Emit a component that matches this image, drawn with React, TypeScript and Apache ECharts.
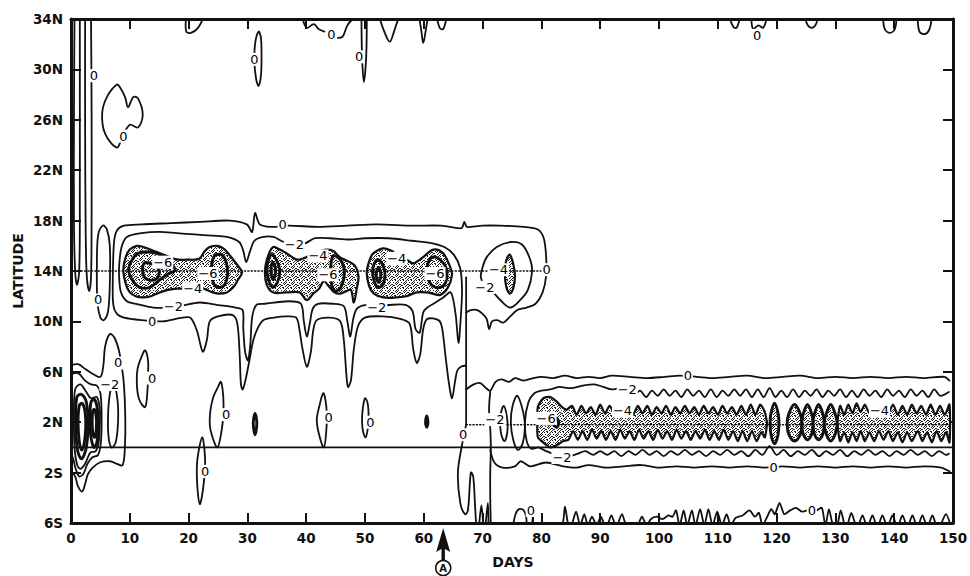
import { useEffect, useRef } from "react";
import * as echarts from "echarts";

type Pt = [number, number];

// ---- axes -------------------------------------------------------------
const DAY_MIN = 0;
const DAY_MAX = 150;
const DAY_STEP = 10;
const LAT_MIN = -6;
const LAT_MAX = 34;
const LAT_TICKS = [-6, -2, 2, 6, 10, 14, 18, 22, 26, 30, 34];
const ARROW_DAY = 63.3;

// ---- contours: top-left strip ------------------------------------------
const LOOP_AXIS: Pt[] = [[0.6, 34.5], [0.5, 26], [0.5, 18], [0.7, 14], [1.0, 12.9], [1.4, 14], [1.5, 20], [1.5, 28], [1.5, 34.5]];
const LOOP_NEAR: Pt[] = [[2.4, 34.5], [2.4, 26], [2.5, 17], [2.7, 13.5], [3.1, 12.4], [3.4, 13.5], [3.5, 18], [3.5, 27], [3.4, 34.5]];
const KIDNEY_26N: Pt[] = [[7.8, 28.8], [6.1, 27.8], [5.3, 26.5], [5.8, 24.9], [7.8, 23.8], [8.7, 24.6], [10.0, 25.6], [11.4, 25.4], [12.2, 26.4], [11.4, 27.7], [10.6, 27.8], [9.7, 27.0], [9.2, 27.8], [8.3, 28.6]];
const LOOP_31N: Pt[] = [[31.9, 33.0], [31.3, 32.0], [31.2, 30.5], [31.5, 29.2], [31.9, 28.7], [32.3, 29.5], [32.4, 31], [32.3, 32.5]];

// ---- contours hanging from the northern edge ---------------------------
const TOP_EDGE: Pt[][] = [
  [[19.6, 34.2], [19.6, 33.0], [20.4, 32.9], [21.6, 33.3], [22.6, 34.2]],
  [[39.3, 34.2], [40.1, 33.3], [41.3, 33.6], [42.1, 33.2], [43.1, 33.0]],
  [[45.4, 32.5], [46.2, 32.6], [46.9, 33.4], [47.5, 33.8], [48.8, 34.2]],
  [[49.4, 34.2], [49.5, 31], [49.8, 29], [50.2, 31], [50.3, 34.2]],
  [[52.4, 34.2], [53.2, 33.1], [54.2, 32.2], [55.0, 33.1], [55.6, 33.9], [56.2, 34.2]],
  [[59.2, 34.2], [59.6, 33], [59.9, 32.1], [60.3, 33], [60.7, 34.2]],
  [[62.2, 34.2], [62.7, 33.3], [63.3, 33.2], [63.9, 34.2]],
  [[112, 34.2], [112.6, 33.4], [113.2, 33.3], [113.8, 34.2]],
  [[115.7, 34.2], [116.0, 33.2], [116.9, 33.5], [117.7, 33.3], [118.4, 34.2]],
  [[124.8, 34.2], [125.3, 33.5], [126.0, 33.3], [126.7, 33.6], [127, 34.2]],
  [[138.1, 34.2], [138.4, 33.2], [139.3, 32.9], [140.1, 33.2], [140.4, 34.2]],
  [[144, 34.2], [144.3, 33.0], [145.2, 32.8], [146.0, 33.2], [146.4, 34.2]],
];

// ---- 14N band -----------------------------------------------------------
const NARROW_5D: Pt[] = [[5.4, 17.6], [4.6, 16.8], [4.4, 14], [4.5, 11.5], [5.0, 10.3], [5.6, 10.1], [6.3, 10.8], [6.6, 13], [6.6, 16], [6.1, 17.3]];
const BAND_ZERO: Pt[] = [
  [67.2, 10.7], [68.0, 10.9], [69.1, 10.9], [70.0, 10.6], [70.7, 10.2], [71.1, 9.4], [71.6, 10.0], [72.5, 10.1], [73.5, 9.9], [74.7, 10.4], [75.9, 10.9], [77.5, 11.1], [79.0, 11.4], [80.2, 12.3], [80.8, 13.6], [80.8, 15.2], [80.4, 16.6], [79.4, 17.3],
  [77, 17.5], [73, 17.6], [70, 17.6], [68, 17.5], [67.3, 17.5], [66.9, 17.9], [66.4, 17.4], [63, 17.6], [58, 17.6], [52, 17.7], [47, 17.6], [42, 17.5], [37, 17.6], [34, 17.5], [32.1, 17.7], [31.3, 18.6], [30.8, 17.1], [29.9, 17.7], [27, 18.0], [22, 17.9], [17, 17.8], [12, 17.7], [9, 17.6], [7.8, 17.2], [7.3, 16.2], [7.1, 13], [7.2, 11.3], [7.8, 10.6],
  [9, 10.3], [12, 10.1], [15.5, 10.0], [19, 10.3], [20.3, 10.3], [21.4, 9.3], [22.4, 7.6], [23.1, 8.5], [23.6, 10.0], [25, 10.4], [27.5, 10.5], [28.3, 9.8], [28.7, 7.2], [28.9, 5.0], [29.2, 4.6], [29.7, 5.4], [30.3, 6.8], [31.0, 8.5], [31.8, 9.5], [32.7, 10.1], [34.5, 10.3], [36.5, 10.4], [38.3, 10.3], [38.9, 9.2], [39.3, 8.0], [40.1, 6.4], [40.8, 7.6], [41.2, 9.3], [41.8, 10.1], [44, 10.3], [45.8, 10.0], [46.4, 8.5], [46.8, 6.0], [47.1, 4.8], [47.6, 5.3], [48.1, 7.8], [48.8, 9.6], [50, 10.3], [53, 10.4], [56, 10.2], [57.6, 9.8], [58.2, 7.8], [58.8, 6.7], [59.4, 7.4], [59.9, 9.4], [60.6, 10.2], [62.5, 10.1], [63.1, 9.5], [63.7, 7.2], [64.3, 5.0], [64.8, 3.9], [65.3, 5.2], [65.7, 6.1], [66.3, 6.4], [67.2, 6.5],
];
const BAND_MINUS2: Pt[] = [
  [8.2, 14.5], [8.6, 15.9], [9.5, 16.7], [12, 17.0], [15, 17.1], [18, 17.0], [21, 16.9], [24, 16.8], [26.5, 16.7], [28.6, 16.3], [29.3, 15.6], [29.8, 14.7], [30.4, 15.5], [31.2, 16.4], [32.7, 16.7], [34.4, 16.7], [36.2, 16.3], [38, 16.1], [39.8, 16.2], [41.5, 16.6], [44, 16.6], [47.4, 16.5], [50, 16.6], [54, 16.6], [58, 16.4], [61.5, 16.2], [63.5, 15.9], [65.1, 15.3], [66.2, 14.2], [66.5, 12.5], [66.3, 10.4], [65.9, 8.3], [65.4, 10.6], [64.6, 12.3],
  [63.3, 11.9], [62, 11.5], [60.6, 11.1], [59.9, 10.7], [59.3, 9.1], [58.6, 9.4], [58.1, 10.8], [57, 11.3], [54, 11.3], [52, 11.2], [50, 11.3], [48.6, 11.0], [48.0, 10.2], [47.5, 8.8], [47.0, 10.0], [46.4, 11.2], [44.5, 11.4], [42, 11.4], [41.1, 11.0], [40.6, 9.8], [40.1, 8.8], [39.6, 10.0], [39.1, 11.4], [37, 11.6], [33, 11.4], [31.5, 11.3], [30.8, 10.3], [30.5, 8.2], [30.1, 6.9], [29.6, 7.6], [29.3, 9.5], [29.2, 10.9], [28, 11.1], [25, 11.3], [21.9, 11.5], [18.5, 11.2], [16.8, 11.1], [14, 11.1], [11, 11.4], [9.5, 11.6], [8.5, 12.3], [8.2, 13.4],
];
const RING_75D: Pt[] = [[70.0, 14.3], [70.7, 15.1], [72.4, 15.9], [74.7, 16.3], [76.7, 16.1], [78.1, 14.9], [78.4, 13.9], [77.7, 12.5], [76.4, 11.7], [74.7, 11.1], [73, 11.7], [71.8, 12.3], [70.4, 12.8], [69.7, 13.5]];

// shaded (-4) cells of the 14N band
const CELL_A: Pt[] = [[8.9, 14.1], [9.3, 15.1], [10.0, 15.7], [11.2, 16.0], [12.3, 15.9], [13.5, 15.7], [14.6, 15.5], [16.8, 15.1], [18.3, 14.9], [19.7, 14.9], [21.0, 14.9], [21.9, 15.0], [22.8, 15.6], [23.6, 15.9], [24.8, 16.0], [25.9, 15.8], [26.9, 15.3], [27.6, 14.9], [28.4, 14.4], [29.1, 13.9], [28.4, 13.3], [27.6, 12.7], [26.5, 12.3], [25.2, 12.2], [24.1, 12.3], [22.5, 12.6], [20.7, 12.6], [18, 12.6], [16.5, 12.5], [15.1, 12.3], [13.6, 12.0], [12.2, 11.9], [11.0, 12.0], [10.0, 12.3], [9.3, 13.0]];
const CELL_B: Pt[] = [[33.0, 14.1], [33.6, 15.3], [34.4, 15.9], [35.5, 15.7], [36.7, 15.4], [38.0, 15.0], [38.9, 14.9], [40.0, 15.1], [41.2, 15.4], [42.5, 15.6], [43.5, 15.7], [44.6, 15.6], [45.7, 15.1], [47.0, 14.8], [48.3, 14.4], [48.9, 13.6], [48.6, 12.6], [48.1, 11.5], [47.6, 12.5], [46.8, 12.4], [45.8, 12.2], [44.8, 12.3], [43.8, 12.8], [43.0, 13.2], [42.2, 12.6], [41.2, 12.2], [40.1, 11.7], [38.9, 12.3], [36.7, 12.3], [34.4, 12.3], [33.3, 12.9]];
const CELL_C: Pt[] = [[50.3, 13.9], [50.8, 14.9], [51.4, 15.4], [53.1, 15.8], [54.5, 15.6], [55.4, 15.3], [56.8, 15.0], [58.2, 14.6], [59.0, 14.8], [59.9, 15.1], [61.6, 15.7], [63.3, 15.4], [64.5, 14.3], [64.8, 13.7], [64.1, 12.7], [62.8, 12.1], [61.5, 12.2], [60.5, 12.3], [58.8, 12.3], [57.0, 12.0], [55.4, 11.9], [53.1, 11.9], [51.5, 12.2], [50.7, 12.8]];
const CELL_D: Pt[] = [[74.6, 15.3], [75.2, 14.6], [75.5, 13.6], [75.2, 12.6], [74.6, 12.2], [74.0, 12.8], [73.8, 13.8], [74.0, 14.8]];

// -6 cores
const CORES: Pt[][] = [
  [[10.4, 14.9], [11.4, 15.4], [13.4, 15.5], [15.1, 15.3], [16.3, 14.9], [17.7, 14.1], [16.3, 13.7], [15.1, 13.3], [13.4, 12.7], [11.7, 12.7], [10.4, 13.3], [9.8, 14.1]],
  [[12.4, 14.6], [14.0, 14.5], [15.0, 14.0], [14.6, 13.4], [13.2, 13.3], [12.3, 13.7]],
  [[24.4, 15.2], [25.6, 15.3], [26.4, 14.7], [26.6, 13.7], [26.1, 12.9], [24.9, 12.7], [24.1, 13.2], [23.9, 14.3]],
  [[34.2, 15.3], [35.0, 14.8], [35.5, 14.0], [35.1, 13.1], [34.3, 12.7], [33.6, 13.3], [33.3, 14.1], [33.6, 14.9]],
  [[34.3, 14.7], [34.8, 14.1], [34.4, 13.3], [34.0, 14.0]],
  [[44.6, 15.2], [45.8, 14.9], [46.5, 14.0], [46.0, 12.8], [44.9, 12.4], [44.2, 13.2], [44.2, 14.5]],
  [[52.3, 14.9], [53.2, 14.3], [53.4, 13.6], [53.0, 12.9], [52.2, 12.7], [51.5, 13.3], [51.3, 14.1], [51.7, 14.7]],
  [[52.3, 14.3], [52.7, 13.7], [52.3, 13.1], [51.9, 13.7]],
  [[61.5, 15.1], [63.0, 14.8], [63.9, 14.0], [63.5, 12.9], [62.0, 12.7], [60.8, 13.3], [60.6, 14.4]],
  [[82.3, 2.4], [82.9, 2.1], [82.7, 1.6], [82.1, 1.8]],
];

// ---- early equatorial cluster (days 0-9) --------------------------------
const EARLY_ZERO: Pt[] = [[0, 6.5], [1.2, 6.6], [2.5, 6.2], [3.8, 5.8], [5.0, 5.6], [5.5, 6.5], [5.8, 8.0], [6.6, 9.0], [7.4, 8.7], [8.2, 7.6], [8.9, 5.5], [9.2, 3], [9.2, 0.5], [8.8, -1.4], [7.8, -1.3], [6.6, -1.1], [4.9, -1.2], [3.7, -1.6], [2.9, -2.1], [2.4, -2.9], [1.9, -3.5], [1.2, -3.1], [0.7, -2.3], [0, -1.9]];
const EARLY_RINGS: Pt[][] = [
  [[0, 5.8], [1.2, 5.9], [2.4, 5.3], [3.4, 5.0], [4.4, 4.9], [5.0, 4.3], [5.2, 2.5], [5.1, 0.5], [4.6, -0.6], [3.6, -0.8], [2.8, -1.3], [2.1, -2.1], [1.4, -2.3], [0.8, -1.7], [0.3, -0.8], [0, -0.6]],
  [[0.7, 4.6], [1.6, 5.0], [2.6, 4.4], [3.4, 3.9], [4.4, 4.0], [4.9, 3.0], [4.9, 1.8], [4.7, 0.4], [4.2, -0.3], [3.3, -0.4], [2.4, -1.3], [1.6, -1.7], [1.0, -1.3], [0.6, 0], [0.5, 2.2]],
  [[7.2, 5.1], [6.6, 4.2], [6.3, 2.5], [6.4, 0.8], [6.9, 0.0], [7.6, 0.4], [8.0, 2], [7.9, 3.8]],
];
const EARLY_CORES: Pt[][] = [
  [[1.0, 4.0], [1.8, 4.2], [2.6, 3.6], [2.9, 2], [2.6, 0], [1.8, -0.9], [1.1, -0.2], [0.8, 2]],
  [[1.4, 3.3], [1.9, 3.5], [2.4, 2.8], [2.5, 1.5], [2.2, 0.2], [1.8, -0.2], [1.4, 0.5], [1.2, 2]],
  [[3.4, 3.6], [4.0, 3.8], [4.5, 3.0], [4.6, 1.8], [4.4, 0.4], [3.9, 0], [3.4, 0.8], [3.2, 2]],
  [[3.7, 2.9], [4.0, 3.0], [4.3, 2.4], [4.3, 1.4], [4.0, 0.8], [3.7, 1.2], [3.6, 2]],
];

// ---- isolated zero loops ------------------------------------------------
const ZERO_LOOPS: Pt[][] = [
  [[12.6, 7.7], [12.0, 7.2], [11.3, 6.2], [11.2, 5.0], [11.6, 3.8], [12.6, 3.2], [13.0, 4.5], [13.1, 5.8], [13.1, 6.9]],
  [[25.5, 5.2], [24.9, 4.7], [24.2, 4.0], [23.7, 2.9], [23.6, 1.8], [24.0, 0.9], [24.9, 0.0], [25.6, 1.3], [25.9, 2.6], [25.9, 4.0]],
  [[22.3, 0.8], [21.7, -0.3], [21.4, -1.5], [21.5, -3.2], [21.9, -4.5], [22.4, -3.5], [22.8, -1.6], [22.7, -0.2]],
  [[42.9, 4.3], [42.2, 3.2], [41.8, 2.2], [42.2, 1.0], [43.0, 0], [43.4, 1.2], [43.5, 2.6], [43.3, 3.7]],
  [[50.0, 3.9], [49.6, 3.0], [49.5, 2.0], [49.7, 1.2], [50.1, 0.8], [50.5, 1.6], [50.6, 2.8], [50.4, 3.6]],
];
const TINY_LOOPS: Pt[][] = [
  [[31.3, 2.7], [31.0, 1.9], [31.3, 1.0], [31.6, 1.9]],
  [[60.5, 2.5], [60.3, 2.0], [60.5, 1.6], [60.7, 2.0]],
];

// ---- transition near day 67 --------------------------------------------
const SWITCH_LINE: Pt[] = [[67.2, 13.5], [67.2, 1.8]];
const SOUTH_LOBE: Pt[] = [[67.2, 1.8], [66.5, 0.2], [65.8, -2.0], [66.2, -4.4], [67.0, -5.3], [67.5, -5.0], [68.0, -2.0], [68.4, -2.3], [68.7, -4.5], [68.9, -6.2]];
const SOUTH_SPIKES: Pt[][] = [
  [[69.4, -6.2], [69.8, -4.6], [70.1, -6.2]],
  [[70.5, -6.2], [70.9, -4.4], [71.0, -6.2]],
];
const LINE_71D: Pt[] = [[71.3, 4.4], [71.1, 3.0], [71.3, 1.5], [71.4, 0], [71.3, -2], [71.3, -4], [71.4, -6.2]];
const LENSES_74D: Pt[][] = [
  [[73.6, 3.3], [74.2, 2.2], [74.2, 1.2], [73.7, 0.5], [73.1, 1.2], [73.0, 2.4]],
  [[75.9, 4.1], [76.9, 2.8], [77.2, 1.6], [76.8, 0.3], [76.0, -0.2], [75.2, 0.6], [74.8, 2], [75.1, 3.3]],
];

// ---- 2N band ------------------------------------------------------------
const EQ_ZERO_N: Pt[] = [[67.2, 4.6], [68.5, 5.0], [69.6, 5.1], [70.6, 4.7], [71.3, 4.5], [72.2, 5.2], [73.2, 5.4], [74.5, 5.2], [75.5, 5.5], [77, 5.3], [78.6, 5.5], [80, 5.6], [82, 5.5], [84, 5.7], [86, 5.5], [88, 5.6], [90, 5.5], [92, 5.7], [95, 5.6], [98, 5.5], [101, 5.6], [103.5, 5.7], [106.5, 5.6], [109, 5.5], [112, 5.6], [115, 5.7], [118, 5.5], [121, 5.6], [124, 5.7], [127, 5.5], [130, 5.6], [133, 5.5], [136, 5.6], [139, 5.5], [142, 5.6], [145, 5.5], [148.5, 5.6], [149.4, 5.3]];
const EQ_ZERO_S: Pt[] = [[71.3, -0.2], [72.0, -1.2], [73.4, -1.6], [75.5, -1.5], [76.5, -1.1], [78.1, -1.5], [80.8, -1.2], [83.7, -1.5], [86, -1.6], [88, -1.4], [91, -1.6], [94, -1.5], [97, -1.4], [100, -1.6], [103, -1.5], [106, -1.6], [109, -1.5], [112, -1.6], [115, -1.5], [118, -1.6], [121, -1.5], [124, -1.6], [127, -1.5], [130, -1.6], [133, -1.5], [136, -1.6], [139, -1.5], [142, -1.6], [145, -1.5], [148, -1.6], [149.4, -1.9]];
const EQ_M2_TOP: Pt[] = [[77.2, 2.0], [77.8, 3.6], [78.8, 4.3], [80, 4.5], [81.5, 4.6], [83, 4.8], [85, 4.7], [87, 4.9], [89, 5.0], [90.5, 4.8], [92, 4.6], [93.3, 4.7], [94.6, 4.5], [95.8, 4.2], [96.8, 4.5], [97.8, 4.0], [98.8, 4.5], [99.8, 4.1], [100.8, 4.6], [101.8, 4.1], [102.8, 4.5], [103.8, 4.0], [104.8, 4.6], [105.8, 4.1], [106.8, 4.5], [107.8, 4.0], [108.8, 4.6], [109.8, 4.0], [110.8, 4.5], [111.8, 4.1], [112.8, 4.6], [113.8, 4.1], [114.8, 4.6], [115.8, 4.0], [116.8, 4.6], [117.8, 4.0], [118.8, 4.7], [119.8, 4.0], [120.8, 4.5], [121.8, 4.0], [122.8, 4.6], [123.8, 4.0], [124.8, 4.5], [125.8, 4.1], [126.8, 4.6], [127.8, 4.0], [128.8, 4.5], [129.8, 4.1], [130.8, 4.6], [131.8, 4.0], [132.8, 4.5], [133.8, 4.0], [134.8, 4.6], [135.8, 4.1], [136.8, 4.5], [137.8, 4.0], [138.8, 4.6], [139.8, 4.1], [140.8, 4.5], [141.8, 4.0], [142.8, 4.6], [143.8, 4.1], [144.8, 4.5], [145.8, 4.0], [146.8, 4.6], [147.8, 4.1], [149.3, 4.4]];
const EQ_M2_BOT: Pt[] = [[77.2, 2.0], [77.5, 0.5], [78.3, -0.1], [79.5, 0.0], [80.8, -0.3], [82.0, -0.5], [83.5, -0.8], [84.8, -0.7], [86.2, -0.5], [87.5, -0.3], [88.8, -0.6], [90.0, -0.3], [91.2, -0.6], [92.4, -0.3], [93.6, -0.7], [94.8, -0.3], [96.0, -0.6], [97.2, -0.2], [98.4, -0.6], [99.6, -0.3], [100.8, -0.7], [102.0, -0.3], [103.2, -0.6], [104.4, -0.2], [105.6, -0.6], [106.8, -0.3], [108.0, -0.7], [109.2, -0.3], [110.4, -0.6], [111.6, -0.2], [112.8, -0.6], [114.0, -0.3], [115.2, -0.7], [116.4, -0.2], [117.6, -0.6], [118.8, 0.1], [120.0, -0.6], [121.2, -0.2], [122.4, -0.7], [123.6, -0.3], [124.8, -0.6], [126.0, -0.2], [127.2, -0.7], [128.4, -0.3], [129.6, -0.6], [130.8, -0.2], [132.0, -0.7], [133.2, -0.3], [134.4, -0.6], [135.6, -0.2], [136.8, -0.6], [138.0, -0.3], [139.2, -0.7], [140.4, -0.3], [141.6, -0.6], [142.8, -0.2], [144.0, -0.6], [145.2, -0.3], [146.4, -0.7], [147.6, -0.3], [148.8, -0.6], [149.3, -0.5]];
const EQ_M4_W_TOP: Pt[] = [[79.3, 2.2], [79.4, 3.2], [80.3, 3.9], [81.5, 4.0], [82.7, 3.6], [83.5, 3.2], [84.3, 3.0], [85.2, 3.3], [86.0, 2.6], [86.8, 3.3], [87.6, 2.7], [88.4, 3.2], [89.2, 2.6], [90.0, 3.4], [90.8, 2.7], [91.6, 3.3], [92.4, 2.7], [93.2, 3.3], [94.0, 2.7], [94.8, 3.2], [95.6, 2.6], [96.4, 3.3], [97.2, 2.7], [98.0, 3.3], [98.8, 2.6], [99.6, 3.2], [100.4, 2.7], [101.2, 3.3], [102.0, 2.6], [102.8, 3.2], [103.6, 2.7], [104.4, 3.3], [105.2, 2.7], [106.0, 3.2], [106.8, 2.6], [107.6, 3.3], [108.4, 2.7], [109.2, 3.2], [110.0, 2.6], [110.8, 3.3], [111.6, 2.7], [112.4, 3.2], [113.2, 2.6], [114.0, 3.3], [114.8, 2.6], [115.6, 3.4], [116.4, 2.6], [117.2, 3.4], [118.0, 2.8], [118.4, 1.9]];
const EQ_M4_W_BOT: Pt[] = [[79.3, 2.2], [79.4, 0.8], [80.3, 0.4], [81.5, 0.0], [82.7, 0.2], [83.7, 0.5], [84.6, 0.6], [85.4, 1.3], [86.2, 0.6], [87.0, 1.3], [87.8, 0.6], [88.6, 1.4], [89.4, 0.7], [90.2, 1.3], [91.0, 0.6], [91.8, 1.3], [92.6, 0.6], [93.4, 1.4], [94.2, 0.7], [95.0, 1.3], [95.8, 0.6], [96.6, 1.4], [97.4, 0.7], [98.2, 1.3], [99.0, 0.6], [99.8, 1.4], [100.6, 0.7], [101.4, 1.3], [102.2, 0.6], [103.0, 1.4], [103.8, 0.7], [104.6, 1.3], [105.4, 0.6], [106.2, 1.3], [107.0, 0.7], [107.8, 1.4], [108.6, 0.6], [109.4, 1.3], [110.2, 0.6], [111.0, 1.4], [111.8, 0.6], [112.6, 1.3], [113.4, 0.5], [114.2, 1.3], [115.0, 0.5], [115.8, 1.3], [116.6, 0.5], [117.4, 1.2], [118.0, 0.8], [118.4, 1.9]];
const EQ_M4_E_TOP: Pt[] = [[130.3, 1.9], [130.8, 3.3], [131.5, 2.6], [132.2, 3.4], [132.9, 2.7], [133.6, 3.5], [134.3, 2.8], [135.0, 3.4], [135.8, 2.7], [136.6, 3.3], [137.4, 2.8], [138.2, 3.3], [139.0, 2.7], [139.8, 3.4], [140.6, 2.6], [141.4, 3.3], [142.2, 2.6], [143.0, 3.4], [143.8, 2.7], [144.6, 3.3], [145.4, 2.6], [146.2, 3.4], [147.0, 2.6], [147.8, 3.3], [148.6, 2.6], [149.4, 3.4]];
const EQ_M4_E_BOT: Pt[] = [[130.3, 1.9], [130.8, 0.5], [131.5, 1.2], [132.2, 0.4], [132.9, 1.2], [133.6, 0.5], [134.3, 1.3], [135.0, 0.5], [135.8, 1.2], [136.6, 0.5], [137.4, 1.3], [138.2, 0.6], [139.0, 1.3], [139.8, 0.5], [140.6, 1.2], [141.4, 0.4], [142.2, 1.2], [143.0, 0.5], [144.0, 1.3], [144.8, 0.5], [145.6, 1.2], [146.4, 0.4], [147.2, 1.3], [148.0, 0.5], [148.8, 1.2], [149.4, 0.4]];
const EQ_M4_LENSES: Pt[][] = [
  [[119.65, 3.5], [120.3, 2.6], [120.4, 1.8], [120.2, 0.9], [119.65, 0.3], [119.1, 0.9], [118.9, 1.8], [119.0, 2.6]],
  [[123.05, 3.4], [124.0, 2.7], [124.3, 1.9], [124.0, 1.0], [123.05, 0.5], [122.1, 1.0], [121.8, 1.9], [122.1, 2.7]],
  [[125.25, 3.4], [126.0, 2.6], [126.2, 1.9], [126.0, 1.1], [125.25, 0.6], [124.5, 1.1], [124.3, 1.9], [124.5, 2.6]],
  [[127.15, 3.4], [127.9, 2.6], [128.1, 1.9], [127.9, 1.1], [127.15, 0.6], [126.4, 1.1], [126.2, 1.9], [126.4, 2.6]],
  [[129.2, 3.4], [130.0, 2.6], [130.3, 1.9], [130.0, 1.1], [129.2, 0.5], [128.4, 1.1], [128.1, 1.9], [128.4, 2.6]],
];

// ---- ripples along the southern edge -----------------------------------
const SOUTH_BUMP_78D: Pt[] = [[75.2, -6.2], [75.6, -5.3], [76.2, -4.9], [77.0, -5.0], [77.4, -5.5], [77.5, -6.2]];
const SOUTH_RIPPLES: Pt[] = [
  [78.4, -6.2], [78.6, -5.3], [78.8, -6.2], [83.4, -6.2], [84.0, -4.7], [84.6, -6.2], [85.1, -6.2], [85.9, -5.1], [86.6, -6.2], [87.3, -5.3], [87.9, -6.2], [88.6, -5.5], [89.4, -6.2], [90.1, -5.5], [90.8, -6.2], [91.2, -6.2], [91.9, -5.4], [92.6, -6.2], [92.9, -6.2], [93.7, -5.3], [94.5, -6.2], [96.3, -6.2], [97.1, -5.5], [97.9, -6.2],
  [98.6, -5.7], [99.6, -5.5], [100.6, -5.7], [101.6, -5.4], [102.3, -5.5], [102.9, -5.0], [103.5, -6.2], [104.2, -5.0], [104.8, -6.2], [105.6, -5.0], [106.2, -6.2], [107.0, -4.9], [107.7, -6.2], [108.4, -4.9], [109.1, -6.2], [109.9, -5.1], [110.7, -6.2], [111.5, -5.3], [112.2, -6.2],
  [113.0, -5.6], [114.2, -5.4], [115.4, -5.0], [116.3, -5.5], [117.0, -5.2], [117.6, -6.2], [118.4, -5.5], [119.1, -4.9], [119.7, -5.3], [120.5, -4.4], [121.3, -5.3], [122.3, -5.0], [123.3, -4.8], [124.3, -5.1], [125.2, -5.0],
];
const SOUTH_RIPPLES_E: Pt[] = [
  [126.9, -5.0], [127.7, -4.8], [128.3, -6.2], [128.9, -4.9], [129.6, -6.2], [130.3, -6.2], [130.9, -5.0], [131.6, -6.2], [132.0, -6.2], [132.7, -5.2], [133.5, -6.2], [133.9, -6.2], [134.6, -5.4], [135.3, -6.2], [135.6, -6.2], [136.3, -5.4], [137.0, -6.2], [137.3, -6.2], [138.0, -5.4], [138.7, -6.2], [139.0, -6.2], [139.7, -5.4], [140.4, -6.2], [140.7, -6.2], [141.4, -5.4], [142.1, -6.2], [142.4, -6.2], [143.1, -5.4], [143.8, -6.2], [144.1, -6.2], [144.8, -5.4], [145.5, -6.2], [145.8, -6.2], [146.5, -5.4], [147.2, -6.2], [147.8, -6.2], [148.8, -5.3], [149.6, -6.2],
];

// ---- reference lines ----------------------------------------------------
const EQUATOR: Pt[] = [[0, 0], [150, 0]];
const AXIS_14N: Pt[] = [[0, 14], [80, 14]];
const AXIS_2N: Pt[] = [[67.2, 1.8], [150, 1.8]];

// ---- contour value labels: [day, latitude, text] ------------------------
const CONTOUR_LABELS: [number, number, string][] = [
  [3.9, 29.5, "0"], [8.9, 24.7, "0"], [31.2, 30.8, "0"], [44.3, 32.8, "0"], [49.0, 31.0, "0"], [116.7, 32.7, "0"],
  [36.0, 17.7, "0"], [38.0, 16.1, "−2"], [42.0, 15.2, "−4"], [15.6, 14.7, "−6"], [23.3, 13.8, "−6"], [20.7, 12.6, "−4"],
  [43.7, 13.7, "−6"], [55.4, 15.0, "−4"], [61.9, 13.8, "−6"], [72.7, 14.1, "−4"], [80.9, 14.1, "0"], [70.4, 12.7, "−2"],
  [17.4, 11.2, "−2"], [13.8, 10.0, "0"], [52.0, 11.1, "−2"], [4.6, 11.7, "0"],
  [8.0, 6.7, "0"], [6.6, 5.0, "−2"], [13.8, 5.5, "0"], [26.4, 2.6, "0"], [22.8, -1.9, "0"], [43.8, 2.4, "0"], [50.9, 2.0, "0"],
  [66.7, 1.0, "0"], [72.1, 2.2, "−2"], [80.8, 2.3, "−6"], [93.8, 2.9, "−4"], [94.6, 4.6, "−2"], [104.9, 5.7, "0"],
  [83.5, -0.8, "−2"], [119.5, -1.6, "0"], [137.5, 2.9, "−4"], [78.2, -5.0, "0"], [126.0, -5.0, "0"],
];

type Shape = { pts: Pt[]; closed?: boolean; w: number; fill?: unknown; dash?: number[]; smooth?: number };

const FONT = "'DejaVu Sans', 'Liberation Sans', sans-serif";

// irregular dot screen used for the shaded (below -4) areas
function makeStipple(): HTMLCanvasElement {
  const c = document.createElement("canvas");
  c.width = 8;
  c.height = 8;
  const g = c.getContext("2d");
  if (g) {
    g.fillStyle = "#fff";
    g.fillRect(0, 0, 8, 8);
    g.fillStyle = "#1a1a1a";
    const dots = [
      [0, 0], [3, 0], [5, 1], [1, 2], [6, 2], [3, 3], [0, 4], [4, 4], [7, 4], [2, 5],
      [5, 6], [0, 6], [7, 7], [3, 7], [6, 0], [1, 5], [4, 2], [6, 5], [2, 7], [5, 3],
    ];
    dots.forEach(([x, y]) => g.fillRect(x, y, 1, 1));
  }
  return c;
}

function shapeSeries(list: Shape[], z: number) {
  return {
    type: "custom",
    coordinateSystem: "cartesian2d",
    clip: true,
    silent: true,
    z,
    data: list.map((s, i) => [s.pts[0][0], s.pts[0][1], i]),
    encode: { x: 0, y: 1 },
    renderItem: (params: any, api: any) => {
      const s = list[params.dataIndex];
      const points = s.pts.map((p) => api.coord(p));
      return {
        type: s.closed ? "polygon" : "polyline",
        shape: { points, smooth: s.smooth ?? 0.35 },
        style: {
          fill: s.fill ?? "none",
          stroke: "#111",
          lineWidth: s.w,
          lineDash: s.dash,
          lineJoin: "round",
          lineCap: "round",
        },
      };
    },
  };
}

// contour values written on the lines, each on a white patch that breaks the line
function labelSeries() {
  return {
    type: "custom",
    coordinateSystem: "cartesian2d",
    silent: true,
    z: 10,
    data: CONTOUR_LABELS.map(([d, l], i) => [d, l, i]),
    encode: { x: 0, y: 1 },
    renderItem: (params: any, api: any) => {
      const [d, l, text] = CONTOUR_LABELS[params.dataIndex];
      const [x, y] = api.coord([d, l]);
      return {
        type: "text",
        x,
        y,
        style: {
          text,
          fill: "#000",
          font: `13px ${FONT}`,
          align: "center",
          verticalAlign: "middle",
          backgroundColor: "#fff",
          padding: [0, 1, 0, 1],
        },
      };
    },
  };
}

export default function App() {
  const ref = useRef<HTMLDivElement>(null);

  useEffect(() => {
    if (!ref.current) return;
    document.body.style.margin = "0";
    const chart = echarts.init(ref.current, undefined, { renderer: "svg" });
    const stipple = { image: makeStipple(), repeat: "repeat" };

    const THIN = 1.8;
    const MID = 2.2;
    const BOLD = 2.9;

    const fills: Shape[] = [
      { pts: CELL_A, closed: true, w: MID, fill: stipple },
      { pts: CELL_B, closed: true, w: MID, fill: stipple },
      { pts: CELL_C, closed: true, w: MID, fill: stipple },
      { pts: CELL_D, closed: true, w: MID, fill: stipple },
      { pts: [...EQ_M4_W_TOP, ...EQ_M4_W_BOT.slice().reverse()], closed: true, w: MID, fill: stipple, smooth: 0.25 },
      { pts: [...EQ_M4_E_TOP, ...EQ_M4_E_BOT.slice().reverse()], closed: true, w: MID, fill: stipple, smooth: 0.25 },
      ...EQ_M4_LENSES.map((pts) => ({ pts, closed: true, w: BOLD, fill: stipple })),
    ];

    const lines: Shape[] = [
      { pts: LOOP_AXIS, w: THIN },
      { pts: LOOP_NEAR, w: THIN },
      { pts: KIDNEY_26N, closed: true, w: THIN },
      { pts: LOOP_31N, closed: true, w: THIN },
      ...TOP_EDGE.map((pts) => ({ pts, w: THIN })),
      { pts: NARROW_5D, closed: true, w: THIN },
      { pts: BAND_ZERO, w: THIN, smooth: 0.3 },
      { pts: BAND_MINUS2, closed: true, w: THIN, smooth: 0.3 },
      { pts: RING_75D, closed: true, w: THIN },
      { pts: EARLY_ZERO, w: THIN },
      ...EARLY_RINGS.map((pts, i) => ({ pts, closed: i > 0, w: THIN })),
      ...ZERO_LOOPS.map((pts) => ({ pts, closed: true, w: THIN })),
      { pts: SWITCH_LINE, w: THIN, smooth: 0 },
      { pts: SOUTH_LOBE, w: THIN },
      ...SOUTH_SPIKES.map((pts) => ({ pts, w: THIN })),
      { pts: LINE_71D, w: THIN },
      ...LENSES_74D.map((pts) => ({ pts, closed: true, w: THIN })),
      { pts: EQ_ZERO_N, w: THIN, smooth: 0.3 },
      { pts: EQ_ZERO_S, w: THIN, smooth: 0.3 },
      { pts: [...EQ_M2_TOP.slice().reverse(), ...EQ_M2_BOT.slice(1)], w: THIN, smooth: 0.3 },
      { pts: SOUTH_BUMP_78D, w: THIN },
      { pts: SOUTH_RIPPLES, w: THIN, smooth: 0.25 },
      { pts: SOUTH_RIPPLES_E, w: THIN, smooth: 0.25 },
      { pts: EQUATOR, w: THIN, smooth: 0 },
      { pts: AXIS_14N, w: 1.4, dash: [1.2, 2.2], smooth: 0 },
      { pts: AXIS_2N, w: 1.4, dash: [1.2, 2.2], smooth: 0 },
    ];

    const bold: Shape[] = [
      ...CORES.map((pts) => ({ pts, closed: true, w: BOLD })),
      ...EARLY_CORES.map((pts) => ({ pts, closed: true, w: BOLD })),
      ...TINY_LOOPS.map((pts) => ({ pts, closed: true, w: BOLD })),
    ];

    const axisLine = { show: true, onZero: false, lineStyle: { color: "#111", width: 3 } };
    const tick = { show: true, inside: true, length: 10, lineStyle: { color: "#111", width: 2 } };
    const tickLabel = { color: "#111", fontFamily: FONT, fontWeight: "bold" as const, fontSize: 13.5 };
    const latText = (v: number) => (v > 0 ? `${v}N` : v < 0 ? `${-v}S` : "EQ");

    const titles = [
      {
        type: "text", x: 18, y: 271, rotation: Math.PI / 2,
        style: { text: "LATITUDE", fill: "#111", font: `bold 14px ${FONT}`, align: "center", verticalAlign: "middle" },
      },
      {
        type: "text", x: 513, y: 562,
        style: { text: "DAYS", fill: "#111", font: `bold 14px ${FONT}`, align: "center", verticalAlign: "middle" },
      },
    ];

    chart.setOption({
      animation: false,
      backgroundColor: "#fff",
      grid: { left: 71, right: 17, top: 19, bottom: 53, containLabel: false, outerBoundsMode: "none" },
      xAxis: [
        {
          type: "value", min: DAY_MIN, max: DAY_MAX, interval: DAY_STEP, position: "bottom",
          axisLine, axisTick: tick, splitLine: { show: false },
          axisLabel: { ...tickLabel, margin: 8 },
        },
        {
          type: "value", min: DAY_MIN, max: DAY_MAX, interval: DAY_STEP, position: "top",
          axisLine, axisTick: tick, splitLine: { show: false }, axisLabel: { show: false },
        },
      ],
      yAxis: [
        {
          type: "value", min: LAT_MIN, max: LAT_MAX, position: "left",
          axisLine, axisTick: { ...tick, customValues: LAT_TICKS }, splitLine: { show: false },
          axisLabel: { ...tickLabel, margin: 8, customValues: LAT_TICKS, formatter: latText },
        },
        {
          type: "value", min: LAT_MIN, max: LAT_MAX, position: "right",
          axisLine, axisTick: { ...tick, customValues: LAT_TICKS }, splitLine: { show: false },
          axisLabel: { show: false, customValues: LAT_TICKS },
        },
      ],
      graphic: titles,
      series: [
        shapeSeries(fills, 2),
        shapeSeries(lines, 3),
        shapeSeries(bold, 4),
        labelSeries(),
      ],
    });

    // marker "A" under the day axis
    const ax = chart.convertToPixel({ xAxisIndex: 0 }, ARROW_DAY) as number;
    const ay = chart.convertToPixel({ yAxisIndex: 0 }, LAT_MIN) as number;
    chart.setOption({
      graphic: [
        ...titles,
        {
          type: "polygon",
          shape: { points: [[ax, ay + 5], [ax - 7, ay + 29], [ax, ay + 25], [ax + 7, ay + 29]] },
          style: { fill: "#111" },
        },
        { type: "rect", shape: { x: ax - 1.7, y: ay + 24, width: 3.4, height: 13 }, style: { fill: "#111" } },
        { type: "circle", shape: { cx: ax, cy: ay + 45, r: 7.5 }, style: { fill: "#fff", stroke: "#111", lineWidth: 1.6 } },
        {
          type: "text", x: ax, y: ay + 45.5,
          style: { text: "A", fill: "#111", font: `bold 10px ${FONT}`, align: "center", verticalAlign: "middle" },
        },
      ],
    }, { replaceMerge: ["graphic"] });

    return () => chart.dispose();
  }, []);

  return <div ref={ref} style={{ width: 970, height: 576 }} />;
}
